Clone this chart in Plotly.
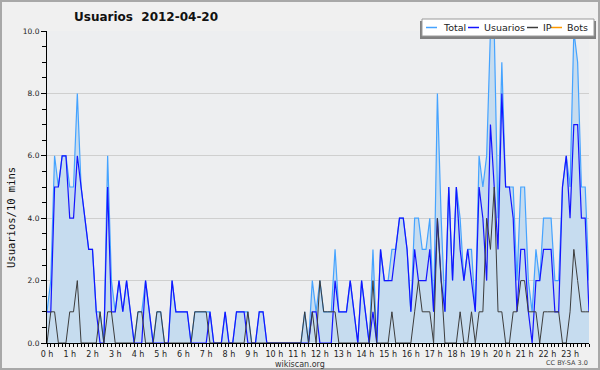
import plotly.graph_objects as go

# 10-minute slots over the day (index 0..143)
usuarios = [1,1,5,5,6,6,4,4,6,5,4,3,
            3,1,0,0,5,1,1,2,1,2,1,0,
            0,0,2,1,0,0,0,0,0,2,1,1,
            1,1,0,0,0,0,0,1,0,0,0,1,
            0,0,1,1,1,0,0,0,1,1,0,0,
            0,0,0,0,0,0,0,0,0,0,1,1,
            0,0,0,0,2,1,1,1,2,1,0,2,
            1,0,1,0,3,2,2,2,3,4,4,3,
            1,3,2,2,2,3,1,4,2,1,5,2,
            5,3,2,3,2,1,5,4,2,7,5,3,
            8,5,5,4,1,3,3,1,0,2,2,3,
            3,3,1,1,5,6,4,7,7,4,4,1]
ip = [0,1,1,0,0,0,1,1,2,0,0,0,
      0,0,1,0,1,1,0,0,0,0,0,0,
      1,1,0,0,0,1,1,0,0,0,0,0,
      0,0,0,1,1,1,1,0,0,0,0,0,
      0,0,0,0,0,1,0,0,0,0,0,0,
      0,0,0,0,0,0,0,0,1,0,1,0,
      2,1,1,1,1,0,0,0,0,0,0,0,
      0,0,2,0,0,0,0,1,0,0,0,0,
      0,1,2,1,1,1,0,4,2,0,0,0,
      0,1,0,0,1,0,1,1,4,3,5,1,
      1,0,0,1,1,2,2,1,1,1,0,1,
      1,1,1,1,0,0,1,3,2,1,1,1]
total = [1,2,6,5,6,6,5,5,8,5,4,3,
         3,1,1,0,6,2,1,2,1,2,1,0,
         1,1,2,1,0,1,1,0,0,2,1,1,
         1,1,0,1,1,1,1,1,0,0,0,1,
         0,0,1,1,1,1,0,0,1,1,0,0,
         0,0,0,0,0,0,0,0,1,0,2,1,
         2,1,1,1,3,1,1,1,2,1,0,2,
         1,0,3,0,3,2,2,3,3,4,4,3,
         1,4,4,3,3,4,1,8,4,1,5,2,
         5,4,2,3,3,1,6,5,6,10,10,4,
         9,5,5,5,2,5,5,2,1,3,2,4,
         4,4,2,2,5,6,5,10,9,5,5,2]
bots = [0] * 144
slots = list(range(144))
hour_ticks = list(range(0, 144, 6))
hour_labels = [f"{h} h" for h in range(24)]
y_ticks = [0, 2, 4, 6, 8, 10]

W, H = 600, 370
L, R, T, B = 47, 589, 31, 343

def px(xp):
    return (xp - L) / (R - L)

def py(yp):
    return (B - yp) / (B - T)

C_TOTAL = "#45a3ff"
C_USR = "#1414ff"
C_IP = "#3c3c3c"
C_BOTS = "#ff9900"

fig = go.Figure()
fig.add_trace(go.Scatter(x=slots, y=bots, mode="lines",
                         line=dict(color=C_BOTS, width=1), hoverinfo="skip"))
fig.add_trace(go.Scatter(x=slots, y=total, mode="lines", fill="tozeroy",
                         fillcolor="#c6dcef",
                         line=dict(color=C_TOTAL, width=1.2), hoverinfo="skip"))
fig.add_trace(go.Scatter(x=slots, y=usuarios, mode="lines",
                         line=dict(color=C_USR, width=1.2), hoverinfo="skip"))
fig.add_trace(go.Scatter(x=slots, y=ip, mode="lines",
                         line=dict(color=C_IP, width=1), hoverinfo="skip"))

font = "DejaVu Sans"
shapes = []
annotations = []

# outer border
shapes.append(dict(type="rect", xref="paper", yref="paper",
                   x0=px(1), x1=px(599), y0=py(1), y1=py(369),
                   line=dict(color="#a8a8a8", width=2), fillcolor="rgba(0,0,0,0)",
                   layer="below"))

# legend box with shadow
shapes.append(dict(type="rect", xref="paper", yref="paper",
                   x0=px(420), x1=px(596), y0=py(21), y1=py(39),
                   line=dict(width=0), fillcolor="#808080", layer="above"))
shapes.append(dict(type="rect", xref="paper", yref="paper",
                   x0=px(422), x1=px(594), y0=py(19), y1=py(36),
                   line=dict(color="#9a9a9a", width=1), fillcolor="#ffffff", layer="above"))
legend_items = [("Total", C_TOTAL, 426, 441), ("Usuarios", C_USR, 468, 482),
                ("IP", C_IP, 527, 541), ("Bots", C_BOTS, 551, 565)]
for name, col, lx, tx in legend_items:
    shapes.append(dict(type="line", xref="paper", yref="paper",
                       x0=px(lx), x1=px(lx + 11), y0=py(27.5), y1=py(27.5),
                       line=dict(color=col, width=1.5), layer="above"))
    annotations.append(dict(text=name, xref="paper", yref="paper",
                            x=px(tx), y=py(27.5), xanchor="left", yanchor="middle",
                            showarrow=False, font=dict(family=font, size=9.5, color="#222")))

annotations.append(dict(text="<b>Usuarios  2012-04-20</b>", xref="paper", yref="paper",
                        x=px(146), y=py(17), xanchor="center", yanchor="middle",
                        showarrow=False, font=dict(family=font, size=12, color="#111")))
annotations.append(dict(text="wikiscan.org", xref="paper", yref="paper",
                        x=px(300), y=py(364), xanchor="center", yanchor="middle",
                        showarrow=False, font=dict(family=font, size=8, color="#333")))
annotations.append(dict(text="CC BY-SA 3.0", xref="paper", yref="paper",
                        x=px(590), y=py(363), xanchor="right", yanchor="middle",
                        showarrow=False, font=dict(family=font, size=6.5, color="#444")))
annotations.append(dict(text="Usuarios/10 mins", xref="paper", yref="paper",
                        x=px(11), y=py(218), xanchor="center", yanchor="middle",
                        textangle=-90, showarrow=False,
                        font=dict(family="DejaVu Sans Mono", size=10.5, color="#111")))

fig.update_layout(
    width=W, height=H,
    margin=dict(l=L, r=W - R, t=T, b=H - B, pad=0),
    paper_bgcolor="#f0f0f0", plot_bgcolor="#edeef0",
    showlegend=False,
    shapes=shapes, annotations=annotations,
    font=dict(family=font, size=8, color="#222"),
)
fig.update_xaxes(range=[0, 143], tickmode="array", tickvals=hour_ticks, ticktext=hour_labels,
                 showgrid=False, zeroline=False, showline=True, linecolor="#000", linewidth=1,
                 ticks="outside", ticklen=3, tickcolor="#000", tickwidth=1,
                 tickfont=dict(family=font, size=8, color="#222"),
                 minor=dict(dtick=1, tick0=0, ticks="outside", ticklen=3, tickcolor="#000", showgrid=False))
fig.update_yaxes(range=[0, 10], tickmode="array", tickvals=y_ticks,
                 ticktext=[f"{v:.1f}" for v in y_ticks],
                 showgrid=True, gridcolor="#cfcfcf", gridwidth=1, zeroline=False,
                 showline=True, linecolor="#000", linewidth=1,
                 ticks="outside", ticklen=5, tickcolor="#000",
                 tickfont=dict(family=font, size=7.5, color="#222"),
                 minor=dict(dtick=0.5, tick0=0, ticks="outside", ticklen=4, tickcolor="#000", showgrid=False))

fig.write_html("out.html", config={"displayModeBar": False},
               post_script="document.body.style.margin='0';document.body.style.padding='0';"
                           "document.body.style.overflow='hidden';")
